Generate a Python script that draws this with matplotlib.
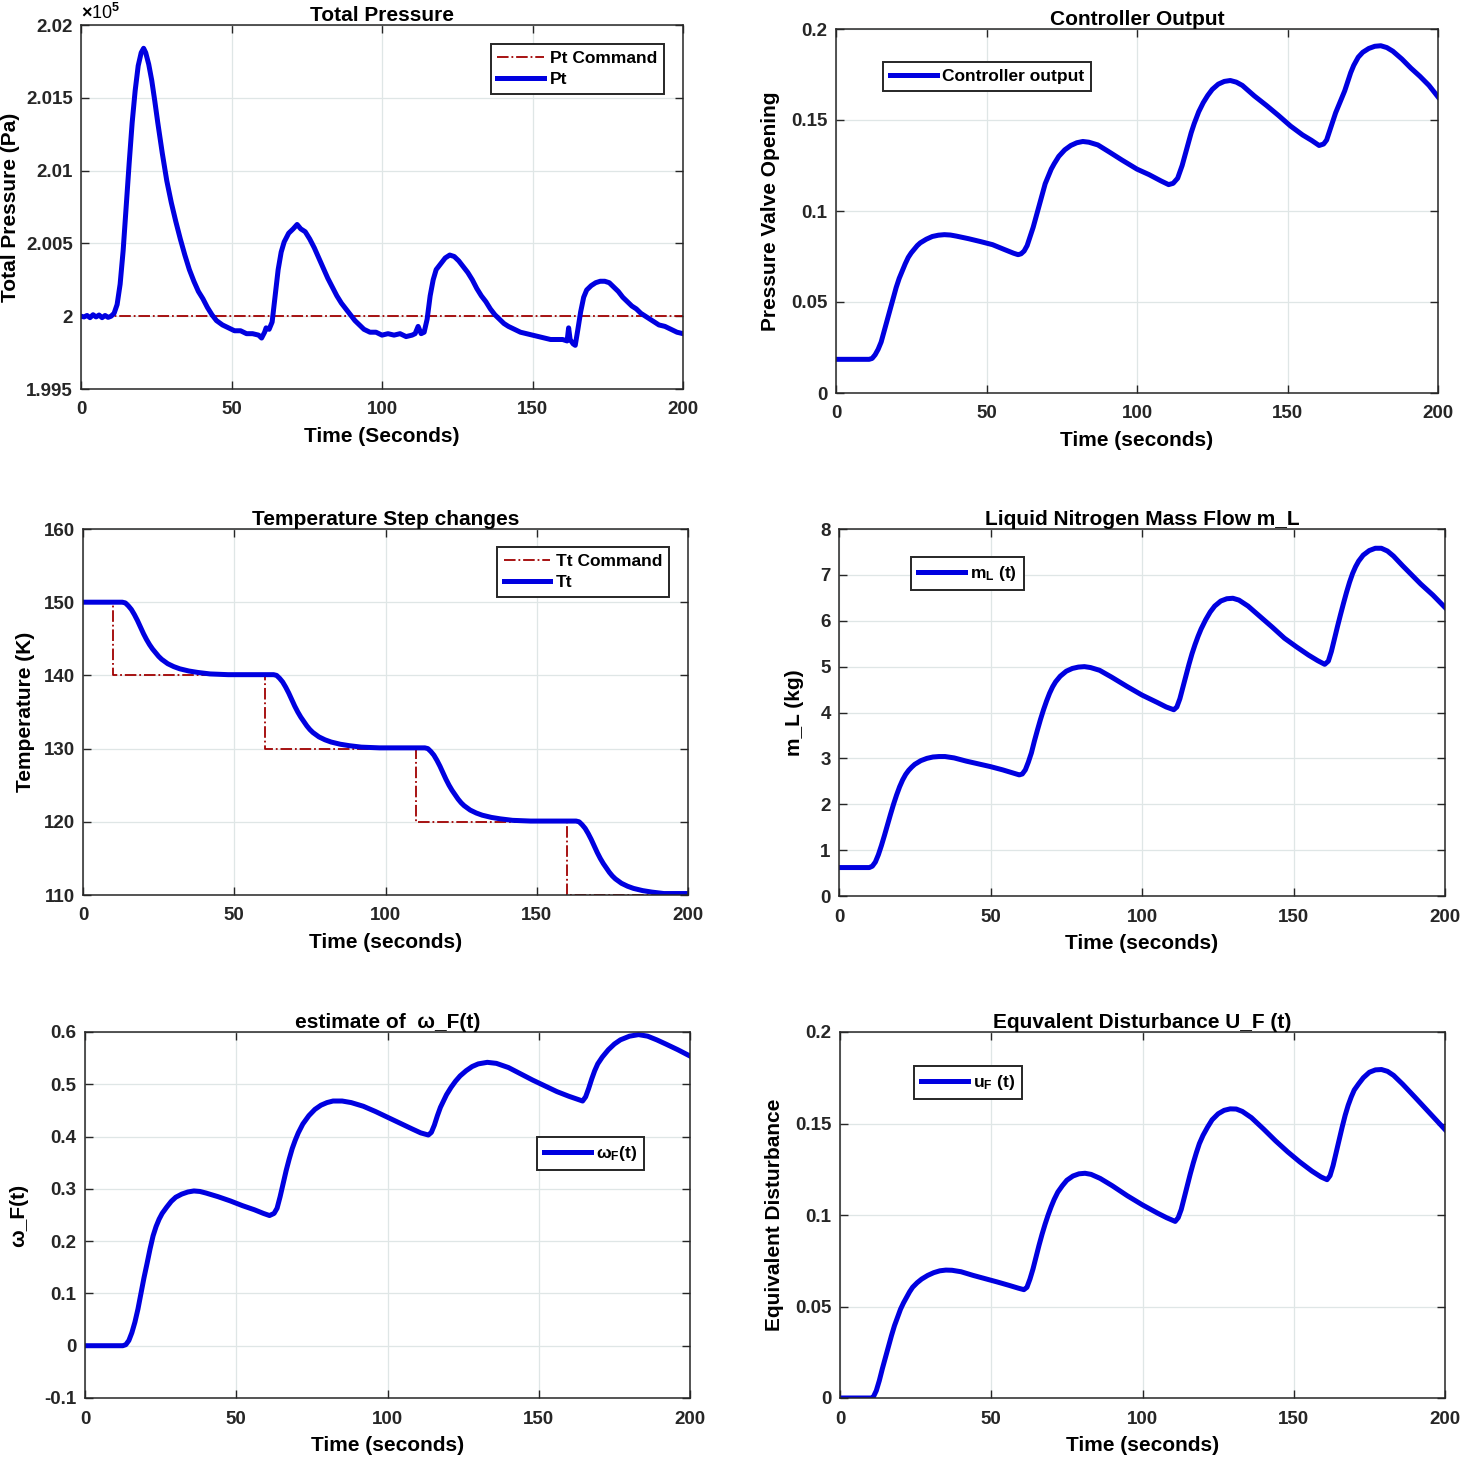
import matplotlib.pyplot as plt
from matplotlib.ticker import FuncFormatter

plt.rcParams['font.family'] = ['Liberation Sans', 'DejaVu Sans']
plt.rcParams['font.weight'] = 'bold'
plt.rcParams['mathtext.fontset'] = 'custom'
plt.rcParams['mathtext.rm'] = 'Liberation Sans:bold'
plt.rcParams['mathtext.it'] = 'Liberation Sans:bold'
plt.rcParams['mathtext.default'] = 'rm'

# ---- data ----
# total pressure (x 1e5 Pa)
pt_time = [0, 1, 2, 3, 4, 5, 6, 7, 8, 9, 10, 11, 12, 13, 14, 15, 16, 17, 18, 19, 20, 20.8, 21.5,
           22.5, 23.5, 24.5, 25.5, 27, 28.5, 30, 31.5, 33, 34.5, 36, 37.5, 39, 40.5, 42, 43.5, 45,
           47, 49, 51, 53, 55, 57, 59, 60, 61, 61.5, 62.5, 63.5, 64.5, 65.5, 66.5, 67.5, 69, 70.5,
           71.8, 73, 74.5, 76, 77.5, 79, 80.5, 82, 83.5, 85, 86.5, 88, 89.5, 91, 92.5, 94, 96, 98,
           100, 102, 104, 106, 108, 110, 111, 112, 113, 114, 115, 116, 117, 118, 119.5, 121, 122.5,
           124, 125.5, 127, 128.5, 130, 131.5, 133, 134.5, 136, 137.5, 139, 140.5, 142, 144, 146,
           148, 150, 152, 154, 156, 158, 160, 161.5, 162, 162.5, 163.5, 164.2, 165, 166, 167, 168,
           169.5, 171, 172.5, 174, 175.5, 177, 178.5, 180, 181.5, 183, 184.5, 186, 187.5, 189,
           190.5, 192, 194, 196, 198, 200]
pt_vals = [2.0000, 1.99995, 2.00005, 1.9999, 2.0001, 1.99995, 2.00008, 1.9999, 2.00005, 1.99992,
           2.0000, 2.0002, 2.0008, 2.0022, 2.0045, 2.0075, 2.0105, 2.0133, 2.0155, 2.0172, 2.0181,
           2.0184, 2.0181, 2.0173, 2.0162, 2.0148, 2.0133, 2.0112, 2.0093, 2.0078, 2.0065, 2.0053,
           2.0042, 2.0032, 2.0024, 2.0017, 2.0012, 2.0006, 2.0001, 1.9997, 1.9994, 1.9992, 1.9990,
           1.9990, 1.9988, 1.9988, 1.9987, 1.9985, 1.9989, 1.9992, 1.9991, 1.9996, 2.0014, 2.0032,
           2.0044, 2.0051, 2.0057, 2.0060, 2.0063, 2.0060, 2.0058, 2.0053, 2.0047, 2.0040, 2.0033,
           2.0026, 2.0020, 2.0014, 2.0009, 2.0005, 2.0001, 1.9997, 1.9994, 1.9991, 1.9989, 1.9989,
           1.9987, 1.9988, 1.9987, 1.9988, 1.9986, 1.9987, 1.9988, 1.9993, 1.9988, 1.9989, 1.9998,
           2.0014, 2.0025, 2.0032, 2.0036, 2.0040, 2.0042, 2.0041, 2.0038, 2.0034, 2.0030, 2.0025,
           2.0019, 2.0014, 2.0010, 2.0005, 2.0001, 1.9998, 1.9995, 1.9993, 1.9991, 1.9989, 1.9988,
           1.9987, 1.9986, 1.9985, 1.9984, 1.9984, 1.9984, 1.9983, 1.9992, 1.9984, 1.9981, 1.9980,
           1.9990, 2.0003, 2.0013, 2.0018, 2.0021, 2.0023, 2.0024, 2.0024, 2.0023, 2.0020, 2.0017,
           2.0013, 2.0010, 2.0007, 2.0005, 2.0002, 2.0000, 1.9998, 1.9996, 1.9994, 1.9993, 1.9991,
           1.9989, 1.9988]
pt_cmd_time = [0, 200]
pt_cmd_vals = [2.0, 2.0]

# controller output (valve opening)
co_time = [0, 11, 12, 13, 14, 15, 16, 17, 18, 19, 20, 21, 22, 23, 24, 25, 26, 27, 28, 30, 32, 34,
           36, 38, 40, 44, 48, 52, 56, 59, 60.5, 61.5, 62.5, 63.5, 64.5, 65.5, 66.5, 67.5, 68.5,
           69.5, 70.5, 71.5, 72.5, 74, 76, 78, 80, 82, 84, 87, 91, 95, 100, 104, 108, 110.5, 112,
           113.5, 115, 116, 117, 118, 119, 120.5, 122, 123.5, 125, 127, 129, 131, 133, 135, 139,
           143, 147, 151, 155, 158, 160.5, 162, 163, 164, 165, 166, 167, 168, 169, 170, 171, 172,
           173.5, 175, 177, 179, 181, 183, 185, 188, 191, 194, 197, 200]
co_vals = [0.0185, 0.0185, 0.0190, 0.0210, 0.0240, 0.0280, 0.0340, 0.0400, 0.0460, 0.0520, 0.0580,
           0.0630, 0.0670, 0.0710, 0.0745, 0.0770, 0.0790, 0.0810, 0.0825, 0.0845, 0.0860, 0.0867,
           0.0870, 0.0868, 0.0862, 0.0848, 0.0832, 0.0815, 0.0788, 0.0768, 0.0760, 0.0765, 0.0780,
           0.0810, 0.0860, 0.0910, 0.0970, 0.1030, 0.1090, 0.1150, 0.1190, 0.1230, 0.1260, 0.1300,
           0.1336, 0.1360, 0.1375, 0.1382, 0.1378, 0.1363, 0.1322, 0.1280, 0.1230, 0.1200, 0.1165,
           0.1145, 0.1152, 0.1180, 0.1250, 0.1310, 0.1370, 0.1430, 0.1480, 0.1545, 0.1595, 0.1635,
           0.1668, 0.1697, 0.1712, 0.1717, 0.1708, 0.1690, 0.1632, 0.1580, 0.1525, 0.1467, 0.1418,
           0.1388, 0.1360, 0.1368, 0.1390, 0.1440, 0.1490, 0.1540, 0.1580, 0.1620, 0.1660, 0.1710,
           0.1760, 0.1800, 0.1845, 0.1872, 0.1893, 0.1905, 0.1908, 0.1898, 0.1878, 0.1835, 0.1785,
           0.1740, 0.1690, 0.1627]

# temperature
tt_cmd_time = [0, 10, 10, 60, 60, 110, 110, 160, 160, 200]
tt_cmd_vals = [150, 150, 140, 140, 130, 130, 120, 120, 110, 110]
tt_time = [0, 13, 14, 15, 16, 17, 18, 19, 20, 21, 22, 23, 24, 25, 26, 27, 28, 30, 32, 35, 38, 42,
           48, 63, 64, 65, 66, 67, 68, 69, 70, 71, 72, 73, 74, 75, 76, 77, 78, 80, 82, 85, 88, 92,
           98, 113, 114, 115, 116, 117, 118, 119, 120, 121, 122, 123, 124, 125, 126, 127, 128, 130,
           132, 135, 138, 142, 148, 163, 164, 165, 166, 167, 168, 169, 170, 171, 172, 173, 174, 175,
           176, 177, 178, 180, 182, 185, 188, 192, 200]
tt_vals = [150, 150, 149.9, 149.5, 149.0, 148.3, 147.5, 146.6, 145.7, 144.9, 144.2, 143.6, 143.1,
           142.6, 142.2, 141.9, 141.6, 141.2, 140.9, 140.6, 140.4, 140.2, 140.1, 140.1, 140.0, 139.6,
           139.1, 138.4, 137.6, 136.7, 135.8, 135.0, 134.3, 133.7, 133.1, 132.6, 132.2, 131.9,
           131.6, 131.2, 130.9, 130.6, 130.4, 130.2, 130.1, 130.1, 130.0, 129.6, 129.1, 128.4,
           127.6, 126.7, 125.8, 125.0, 124.3, 123.7, 123.1, 122.6, 122.2, 121.9, 121.6, 121.2,
           120.9, 120.6, 120.4, 120.2, 120.1, 120.1, 120.0, 119.6, 119.1, 118.4, 117.6, 116.7,
           115.8, 115.0, 114.3, 113.7, 113.1, 112.6, 112.2, 111.9, 111.6, 111.2, 110.9, 110.6,
           110.4, 110.2, 110.2]

# liquid nitrogen mass flow
ml_time = [0, 10, 11, 12, 13, 14, 15, 16, 17, 18, 19, 20, 21, 22, 23, 24, 25, 27, 29, 31, 33, 35,
           38, 42, 46, 50, 54, 57, 59.5, 60.5, 61.5, 62.5, 63.5, 64.5, 65.5, 66.5, 67.5, 68.5, 69.5,
           70.5, 71.5, 73, 75, 77, 79, 81, 83, 86, 90, 95, 100, 105, 108, 110.5, 111.5, 112.5,
           113.5, 114.5, 115.5, 116.5, 117.5, 118.5, 119.5, 121, 122.5, 124, 126, 128, 130, 132,
           135, 139, 143, 147, 151, 155, 158, 160.3, 161.5, 162.5, 163.5, 164.5, 165.5, 166.5,
           167.5, 168.5, 169.5, 170.5, 171.5, 173, 175, 177, 179, 181, 183, 186, 189, 192, 196, 200]
ml_vals = [0.62, 0.62, 0.65, 0.74, 0.90, 1.10, 1.32, 1.55, 1.78, 2.00, 2.20, 2.38, 2.53, 2.65, 2.74,
           2.81, 2.87, 2.95, 3.00, 3.03, 3.04, 3.04, 3.01, 2.94, 2.88, 2.82, 2.75, 2.69, 2.64, 2.66,
           2.75, 2.92, 3.12, 3.38, 3.62, 3.85, 4.06, 4.25, 4.42, 4.56, 4.67, 4.79, 4.90, 4.96, 4.99,
           5.00, 4.98, 4.92, 4.77, 4.57, 4.38, 4.22, 4.12, 4.06, 4.12, 4.30, 4.55, 4.80, 5.05, 5.28,
           5.48, 5.66, 5.82, 6.02, 6.19, 6.32, 6.43, 6.48, 6.49, 6.45, 6.32, 6.09, 5.86, 5.62, 5.43,
           5.25, 5.13, 5.05, 5.12, 5.33, 5.60, 5.87, 6.13, 6.38, 6.62, 6.84, 7.03, 7.18, 7.30, 7.43,
           7.53, 7.58, 7.58, 7.52, 7.41, 7.20, 7.00, 6.80, 6.56, 6.29]

# estimate of omega_F
wf_time = [0, 12.5, 13.5, 14.5, 15.5, 16.5, 17.5, 18.5, 19.5, 20.5, 21.5, 22.5, 23.5, 24.5, 25.5,
           27, 28.5, 30, 32, 34, 36, 38, 40, 44, 48, 52, 56, 59, 61, 62.5, 63.5, 64.5, 65.5, 66.5,
           67.5, 68.5, 69.5, 70.5, 72, 74, 76, 78, 80, 82, 85, 88, 92, 96, 100, 104, 108, 111,
           113.5, 114.5, 115.5, 116.5, 117.5, 118.5, 119.5, 121, 122.5, 124, 126, 128, 130, 133,
           136, 140, 144, 148, 152, 156, 160, 163, 164.5, 165.5, 166.5, 167.5, 168.5, 169.5, 171,
           173, 175, 177, 180, 183, 186, 189, 192, 196, 200]
wf_vals = [0, 0, 0.002, 0.010, 0.025, 0.045, 0.070, 0.100, 0.130, 0.157, 0.185, 0.210, 0.228, 0.242,
           0.253, 0.265, 0.276, 0.284, 0.290, 0.294, 0.296, 0.295, 0.292, 0.285, 0.277, 0.268, 0.260,
           0.253, 0.249, 0.253, 0.263, 0.285, 0.310, 0.335, 0.357, 0.377, 0.393, 0.407, 0.424, 0.440,
           0.452, 0.460, 0.465, 0.468, 0.468, 0.465, 0.458, 0.448, 0.437, 0.426, 0.415, 0.407, 0.403,
           0.408, 0.422, 0.440, 0.456, 0.468, 0.480, 0.494, 0.506, 0.516, 0.526, 0.534, 0.539, 0.542,
           0.540, 0.532, 0.520, 0.508, 0.497, 0.486, 0.477, 0.471, 0.468, 0.476, 0.492, 0.510, 0.526,
           0.539, 0.552, 0.566, 0.577, 0.585, 0.592, 0.595, 0.592, 0.585, 0.577, 0.566, 0.554]

# equivalent disturbance u_F
uf_time = [0, 10.5, 11, 12, 13, 14, 15, 16, 17, 18, 19, 20, 21, 22, 23, 24, 25.5, 27, 29, 31, 33,
           35, 37, 40, 44, 48, 52, 56, 59, 60.8, 61.8, 62.8, 63.8, 64.8, 65.8, 66.8, 67.8, 68.8,
           69.8, 70.8, 72, 73.5, 75, 77, 79, 81, 83, 86, 90, 95, 100, 105, 108, 110.8, 111.8,
           112.8, 113.8, 114.8, 115.8, 116.8, 117.8, 118.8, 120, 121.5, 123, 125, 127, 129, 131,
           133, 136, 140, 144, 148, 152, 156, 159, 161, 162, 163, 164, 165, 166, 167, 168, 169,
           170, 171.5, 173, 175, 177, 179, 181, 183, 186, 190, 195, 200]
uf_vals = [0, 0, 0.0005, 0.0040, 0.0095, 0.0160, 0.0220, 0.0280, 0.0340, 0.0395, 0.0440, 0.0485,
           0.0520, 0.0550, 0.0580, 0.0605, 0.0630, 0.0650, 0.0670, 0.0685, 0.0695, 0.0699, 0.0698,
           0.0690, 0.0670, 0.0652, 0.0634, 0.0615, 0.0600, 0.0592, 0.0605, 0.0650, 0.0705, 0.0770,
           0.0835, 0.0895, 0.0950, 0.1000, 0.1045, 0.1085, 0.1125, 0.1160, 0.1190, 0.1213, 0.1225,
           0.1228, 0.1222, 0.1200, 0.1160, 0.1105, 0.1055, 0.1010, 0.0985, 0.0965, 0.0985, 0.1030,
           0.1095, 0.1160, 0.1225, 0.1285, 0.1340, 0.1390, 0.1435, 0.1480, 0.1520, 0.1553, 0.1572,
           0.1580, 0.1579, 0.1566, 0.1532, 0.1470, 0.1405, 0.1345, 0.1290, 0.1240, 0.1208, 0.1193,
           0.1215, 0.1270, 0.1340, 0.1410, 0.1480, 0.1545, 0.1600, 0.1645, 0.1683, 0.1718, 0.1750,
           0.1780, 0.1793, 0.1795, 0.1785, 0.1763, 0.1715, 0.1645, 0.1556, 0.1467]

x_ticks = [0, 50, 100, 150, 200]

BLUE = '#0000e0'
RED = '#a00000'
W, H = 1460, 1458
fig = plt.figure(figsize=(W / 100, H / 100), dpi=100)


def make_axes(left, top, right, bottom):
    ax = fig.add_axes([left / W, 1 - bottom / H, (right - left) / W, (bottom - top) / H])
    ax.grid(True, color='#dfe6e6', linewidth=0.9)
    ax.set_axisbelow(True)
    ax.tick_params(direction='in', top=True, right=True, length=6, width=1.0,
                   labelsize=13.5, colors='#262626')
    ax.tick_params(axis='x', pad=9)
    ax.tick_params(axis='y', pad=6)
    for s in ax.spines.values():
        s.set_color('#262626')
        s.set_linewidth(1.1)
    ax.set_xlim(0, 200)
    ax.set_xticks(x_ticks)
    ax.yaxis.set_major_formatter(FuncFormatter(lambda v, p: '%g' % round(v, 6)))
    return ax


def style(ax, title, xlabel, ylabel, ypad=4):
    ax.set_title(title, fontsize=15, fontweight='bold', pad=3)
    ax.set_xlabel(xlabel, fontsize=15, fontweight='bold', labelpad=6)
    ax.set_ylabel(ylabel, fontsize=15, fontweight='bold', labelpad=ypad)


def legend(ax, loc, anchor):
    lg = ax.legend(loc=loc, bbox_to_anchor=anchor, borderaxespad=0, fontsize=12.5,
                   handlelength=2.7, handletextpad=0.3, fancybox=False, framealpha=1,
                   edgecolor='#262626', borderpad=0.4, labelspacing=0.35)
    lg.get_frame().set_linewidth(1.4)


# 1 total pressure
ax1 = make_axes(81, 25, 683, 389)
ax1.plot(pt_cmd_time, pt_cmd_vals, color=RED, linestyle='-.', linewidth=1.3, label='Pt Command')
ax1.plot(pt_time, pt_vals, color=BLUE, linewidth=3.6, label='Pt')
ax1.set_ylim(1.995, 2.02)
ax1.set_yticks([1.995, 2.0, 2.005, 2.01, 2.015, 2.02])
style(ax1, 'Total Pressure', 'Time (Seconds)', 'Total Pressure (Pa)', ypad=4)
ax1.text(0.0, 1.005, r'$\times$10$^5$', transform=ax1.transAxes, fontsize=13,
         ha='left', va='bottom', fontweight='normal')
legend(ax1, 'upper right', (0.968, 0.948))

# 2 controller output
ax2 = make_axes(836, 29, 1438, 393)
ax2.plot(co_time, co_vals, color=BLUE, linewidth=3.6, label='Controller output')
ax2.set_ylim(0, 0.2)
ax2.set_yticks([0, 0.05, 0.1, 0.15, 0.2])
style(ax2, 'Controller Output', 'Time (seconds)', 'Pressure Valve Opening', ypad=8)
legend(ax2, 'upper left', (0.078, 0.909))

# 3 temperature
ax3 = make_axes(83, 529, 688, 895)
ax3.plot(tt_cmd_time, tt_cmd_vals, color=RED, linestyle='-.', linewidth=1.3, label='Tt Command')
ax3.plot(tt_time, tt_vals, color=BLUE, linewidth=3.6, label='Tt')
ax3.set_ylim(110, 160)
ax3.set_yticks([110, 120, 130, 140, 150, 160])
style(ax3, 'Temperature Step changes', 'Time (seconds)', 'Temperature (K)', ypad=6)
legend(ax3, 'upper right', (0.9686, 0.951))

# 4 mass flow
ax4 = make_axes(839, 529, 1445, 896)
ax4.plot(ml_time, ml_vals, color=BLUE, linewidth=3.6, label='m$_L$ (t)')
ax4.set_ylim(0, 8)
ax4.set_yticks(range(0, 9))
style(ax4, 'Liquid Nitrogen Mass Flow m_L', 'Time (seconds)', 'm_L (kg)', ypad=12)
legend(ax4, 'upper left', (0.119, 0.924))

# 5 omega estimate
ax5 = make_axes(85, 1032, 690, 1398)
ax5.plot(wf_time, wf_vals, color=BLUE, linewidth=3.6, label='ω$_F$(t)')
ax5.set_ylim(-0.1, 0.6)
ax5.set_yticks([-0.1, 0, 0.1, 0.2, 0.3, 0.4, 0.5, 0.6])
style(ax5, 'estimate of  ω_F(t)', 'Time (seconds)', 'ω_F(t)', ypad=12)
legend(ax5, 'upper left', (0.747, 0.713))

# 6 equivalent disturbance
ax6 = make_axes(840, 1032, 1445, 1398)
ax6.plot(uf_time, uf_vals, color=BLUE, linewidth=3.6, label='u$_F$ (t)')
ax6.set_ylim(0, 0.2)
ax6.set_yticks([0, 0.05, 0.1, 0.15, 0.2])
style(ax6, 'Equvalent Disturbance U_F (t)', 'Time (seconds)', 'Equivalent Disturbance', ypad=8)
legend(ax6, 'upper left', (0.122, 0.907))

fig.savefig('out.png', dpi=100)
